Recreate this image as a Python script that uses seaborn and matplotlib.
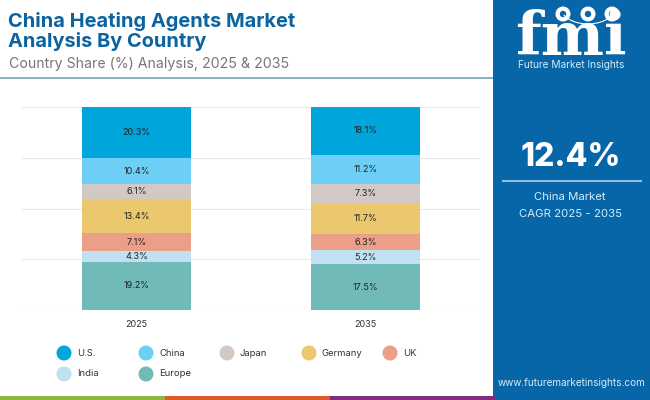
import matplotlib

matplotlib.use("Agg")
import matplotlib.pyplot as plt
import pandas as pd
import seaborn as sns
from matplotlib.patches import Arc, Circle, Rectangle

years = ["2025", "2035"]
countries = ["U.S.", "China", "Japan", "Germany", "UK", "India", "Europe"]
share_2025 = [20.3, 10.4, 6.1, 13.4, 7.1, 4.3, 19.2]
share_2035 = [18.1, 11.2, 7.3, 11.7, 6.3, 5.2, 17.5]
colors = ["#00A5DC", "#6DCFF6", "#D2C9C4", "#EBC76D", "#EC9F88", "#C1E1F3", "#70BBB8"]

SIDE = "#0766A8"
TITLE = "#0B639F"

sns.set_theme(style="whitegrid")
plt.rcParams["font.family"] = ["Inter", "DejaVu Sans"]

df = pd.DataFrame({
    "year": years[0:1] * 7 + years[1:2] * 7,
    "country": countries * 2,
    "share": share_2025 + share_2035,
})

fig = plt.figure(figsize=(6.5, 4), dpi=100, facecolor="white")
ax = fig.add_axes([22 / 650, 1 - 310 / 400, 458 / 650, 203 / 400])

# 100% stacked, the shares don't add up to 100 in the source
sns.histplot(data=df, x="year", weights="share", hue="country", hue_order=countries,
             multiple="fill", discrete=True, shrink=0.48, palette=colors, alpha=1,
             linewidth=0, legend=False, ax=ax)
ax.set_xlim(-0.5, 1.5)
ax.set_ylim(0, 1)
ax.set_yticks([0, 0.25, 0.5, 0.75, 1])
ax.set_yticklabels([])
ax.set_xlabel("")
ax.set_ylabel("")
ax.grid(axis="x", visible=False)
ax.grid(axis="y", color="#E9E9E9", linewidth=0.8)
ax.set_axisbelow(True)
sns.despine(ax=ax, left=True, top=True, right=True, bottom=True)
ax.tick_params(axis="x", length=0, labelsize=6.5, labelcolor="#333333", pad=7)
ax.tick_params(axis="y", length=0)

# containers come back in reverse hue order
for cont in ax.containers:
    idx = len(countries) - 1 - ax.containers.index(cont)
    labels = [f"{share_2025[idx]}%", f"{share_2035[idx]}%"]
    ax.bar_label(cont, labels=labels, label_type="center", fontsize=6.5, color="#222222")

# everything around the chart is drawn in pixel coordinates
over = fig.add_axes([0, 0, 1, 1], zorder=5)
over.set_xlim(0, 650)
over.set_ylim(400, 0)
over.axis("off")

over.text(8, 27, "China Heating Agents Market", fontsize=14.4, fontweight="bold", color=TITLE, va="baseline")
over.text(8, 47, "Analysis By Country", fontsize=14.4, fontweight="bold", color=TITLE, va="baseline")
over.text(9, 68, "Country Share (%) Analysis, 2025 & 2035", fontsize=10.2, color="#777777", va="baseline")
over.add_patch(Rectangle((0, 77), 493, 1.8, color="#86B1C6", lw=0))

# legend
legend_rows = [(57, 353), (139, 353), (220, 353), (302, 353), (383, 353), (57, 374), (139, 374)]
for (x, y), name, c in zip(legend_rows, countries, colors):
    over.add_patch(Circle((x + 7, y), 7.5, color=c, lw=0))
    over.text(x + 20, y, name, fontsize=6.8, color="#333333", va="center")

# side panel
over.add_patch(Rectangle((493, 0), 157, 400, color=SIDE, lw=0))
over.text(571, 55, "fmi", family="DejaVu Serif", fontsize=43, fontweight="bold", color="white",
          ha="center", va="baseline")
for y in range(26, 56, 5):
    over.add_patch(Rectangle((510, y), 125, 0.9, color=SIDE, lw=0))
for x in (563, 588, 612):
    over.add_patch(Circle((x, 14), 7.5, color="white", lw=0))
    over.add_patch(Circle((x, 14), 3.2, color=SIDE, lw=0))
over.add_patch(Arc((588, 6), 56, 36, theta1=20, theta2=160, color="white", lw=0.8))
over.text(571, 65, "Future Market Insights", fontsize=7.3, color="#D5EBF8", ha="center", va="center")

over.text(571, 157, "12.4%", fontsize=23, fontweight="heavy", color="white", ha="center", va="center")
over.add_patch(Rectangle((502, 180), 140, 1.6, color="#8FBFE0", lw=0))
over.text(570, 197, "China Market", fontsize=8.2, color="#D5EBF8", ha="center", va="center")
over.text(571, 214, "CAGR 2025 - 2035", fontsize=8.2, color="#D5EBF8", ha="center", va="center")
over.text(572, 383, "www.futuremarketinsights.com", fontsize=7.2, color="#D5EBF8", ha="center", va="center")

# bottom strip
for x0, c in zip((0, 165, 330), ("#8DB83E", "#E0592A", "#7D2E7E")):
    over.add_patch(Rectangle((x0, 396), 165, 4, color=c, lw=0))

fig.savefig("out.png", dpi=100)
